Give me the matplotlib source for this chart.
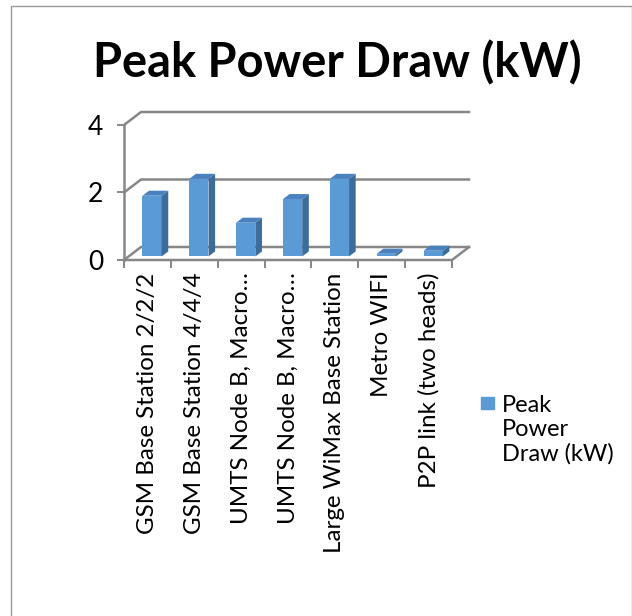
import matplotlib
matplotlib.use("Agg")
import matplotlib.pyplot as plt
from matplotlib.patches import Polygon, Rectangle

plt.rcParams['font.family'] = ['Lato', 'DejaVu Sans']

categories = ["GSM Base Station 2/2/2", "GSM Base Station 4/4/4",
              "UMTS Node B, Macro…", "UMTS Node B, Macro…",
              "Large WiMax Base Station", "Metro WIFI", "P2P link (two heads)"]
values = [1.8, 2.3, 1.0, 1.7, 2.3, 0.08, 0.17]
yticks = [0, 2, 4]
title = "Peak Power Draw (kW)"
series_name = "Peak\nPower\nDraw (kW)"

W, H = 632, 616
fig = plt.figure(figsize=(W / 100, H / 100), dpi=100)

# plot box in pixels (front plane left/bottom, back plane right/top)
x0, x1, y0, y1 = 124, 469, 112, 260
ax = fig.add_axes([x0 / W, 1 - y1 / H, (x1 - x0) / W, (y1 - y0) / H])

n = len(categories)
ymax = 4
dx = 17 / (328 / n)     # depth offset in data units
dy = 13 / (135 / ymax)
ax.set_xlim(0, n + dx)
ax.set_ylim(0, ymax + dy)
for s in ax.spines.values():
    s.set_visible(False)

grid = '#878787'
lw = 1.8
# walls / gridlines
for v in yticks:
    ax.plot([0, dx, n + dx], [v, v + dy, v + dy], color=grid, lw=lw,
            clip_on=False, solid_joinstyle='miter')
ax.plot([0, 0], [0, ymax], color=grid, lw=lw, clip_on=False)
ax.plot([0, n, n + dx], [0, 0, dy], color=grid, lw=lw, clip_on=False)

# bars with a fake depth
f0, f1 = 0.27, 0.66
bw = 0.41
front = '#5b9bd5'
side = '#3d6c9b'
top = '#4a82bf'
xs = [i + 0.5 + f0 * dx for i in range(n)]
ax.bar(xs, values, width=bw, bottom=f0 * dy, color=front, zorder=3)
ddx, ddy = (f1 - f0) * dx, (f1 - f0) * dy
for x, v in zip(xs, values):
    xl, xr = x - bw / 2, x + bw / 2
    yb, yt = f0 * dy, v + f0 * dy
    ax.add_patch(Polygon([(xr, yb), (xr + ddx, yb + ddy), (xr + ddx, yt + ddy), (xr, yt)],
                         closed=True, color=side, zorder=3, lw=0))
    ax.add_patch(Polygon([(xl, yt), (xr, yt), (xr + ddx, yt + ddy), (xl + ddx, yt + ddy)],
                         closed=True, color=top, zorder=3, lw=0))

# y axis
ax.set_yticks(yticks)
ax.set_yticklabels([str(t) for t in yticks], fontsize=19)
ax.tick_params(axis='y', length=5, width=1.4, color=grid, pad=10)

# x axis: marks at category boundaries, labels at centres
ax.set_xticks([i + 0.5 for i in range(n)])
ax.set_xticklabels(categories, rotation=90, fontsize=17.4)
ax.set_xticks(range(n + 1), minor=True)
ax.tick_params(axis='x', which='major', length=0, pad=9)
ax.tick_params(axis='x', which='minor', length=6, width=1.4, color=grid)

fig.text(337 / W, 1 - 77 / H, title, fontsize=33.8, fontweight='bold',
         ha='center', va='baseline')

# legend
fig.patches.append(Rectangle((481 / W, 1 - 409 / H), 13 / W, 12 / H,
                             transform=fig.transFigure, color=front))
fig.text(502 / W, 1 - 395 / H, series_name, fontsize=17, ha='left', va='top',
         linespacing=1.18)

# chart border
fig.patches.append(Rectangle((11 / W, -2 / H), 620.5 / W, (H - 6 + 2) / H,
                             transform=fig.transFigure, fill=False,
                             edgecolor='#9a9a9a', lw=1))

fig.savefig("out.png", dpi=100)
